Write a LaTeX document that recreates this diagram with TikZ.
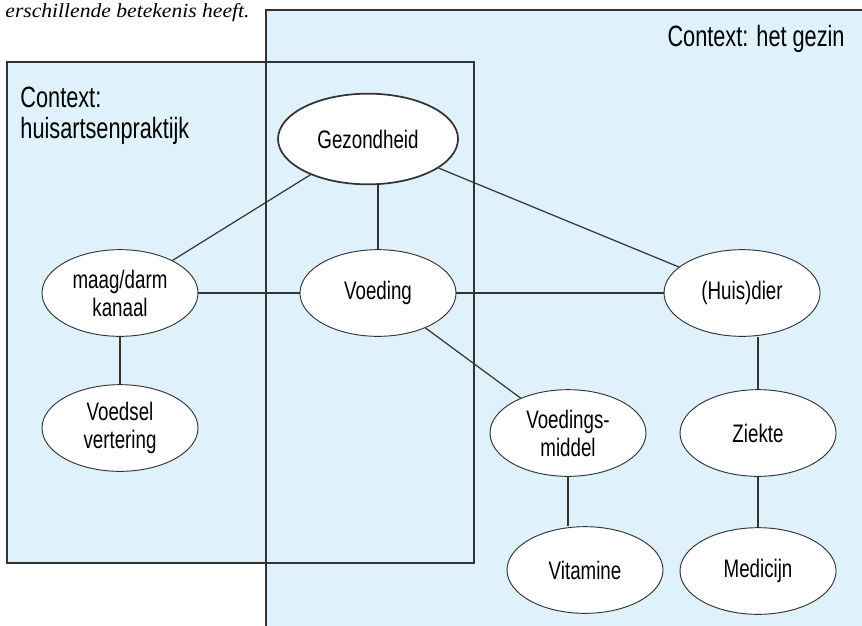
\documentclass[tikz,border=0pt]{standalone}
\usepackage{fontspec}
\setmainfont{Liberation Sans}[FakeStretch=0.74]
\newfontfamily\introfont{Liberation Serif}[FakeStretch=1.08]
\usetikzlibrary{shapes.geometric}
\definecolor{ctxblue}{HTML}{DFF1FA}
\definecolor{linegray}{HTML}{333333}

\begin{document}
\begin{tikzpicture}[
		x=0.75pt, y=-0.75pt,
		every node/.style={ellipse, draw=linegray, fill=white, line width=0.7pt, minimum width=117pt, minimum height=65pt, inner sep=0pt, align=center, font=\fontsize{19}{21}\selectfont},
		ctxtext/.style={rectangle, draw=none, fill=none, minimum size=0pt, font=\fontsize{22}{23.25}\selectfont},
		conn/.style={draw=linegray, line width=0.9pt}
	]
  \clip (0,0) rectangle (862,625);
  % the two contexts
  \fill [ctxblue] (266,10) rectangle (880,640);
  \fill [ctxblue] (7,62) rectangle (474,563);
  \draw [linegray, line width=0.8pt] (266,640) -- (266,10) -- (880,10);
  \draw [linegray, line width=0.8pt] (7,62) rectangle (474,563);
  \node (intro) [rectangle, draw=none, fill=none, minimum size=0pt, anchor=base east, font=\introfont\itshape\fontsize{15}{17}\selectfont] at (250,17) {erschillende betekenis heeft.};
  \node (ctx_gezin) [ctxtext, anchor=base east] at (845,46) {Context: het gezin};
  \node (ctx_huisarts) [ctxtext, anchor=base west, align=left] at (20,138) {Context:\\huisartsenpraktijk};
  % concepts
  \node (gezondheid) [line width=1.3pt, minimum width=135pt, minimum height=68pt] at (368,139) {Gezondheid};
  \node (maag_darm) at (120,293) {maag/darm\\kanaal};
  \node (voeding) at (378,293) {Voeding};
  \node (huisdier) at (742,293) {(Huis)dier};
  \node (voedsel_vert) at (120,428) {Voedsel\\vertering};
  \node (voedingsmiddel) at (568,433) {Voedings-\\middel};
  \node (ziekte) at (758,433) {Ziekte};
  \node (vitamine) at (585,570) {Vitamine};
  \node (medicijn) at (758,571) {Medicijn};
  % links
  \draw [conn] (gezondheid) -- (maag_darm);
  \draw [conn] (voeding.north) -- (voeding.north |- gezondheid.south);
  \draw [conn] (gezondheid) -- (huisdier);
  \draw [conn] (maag_darm) -- (voeding);
  \draw [conn] (voeding) -- (huisdier);
  \draw [conn] (maag_darm) -- (voedsel_vert);
  \draw [conn] (voeding) -- (voedingsmiddel);
  \draw [conn] (voedingsmiddel.south) -- (voedingsmiddel.south |- vitamine.north);
  \draw [conn] (ziekte.north) -- (ziekte.north |- huisdier.south);
  \draw [conn] (ziekte) -- (medicijn);
\end{tikzpicture}
\end{document}
